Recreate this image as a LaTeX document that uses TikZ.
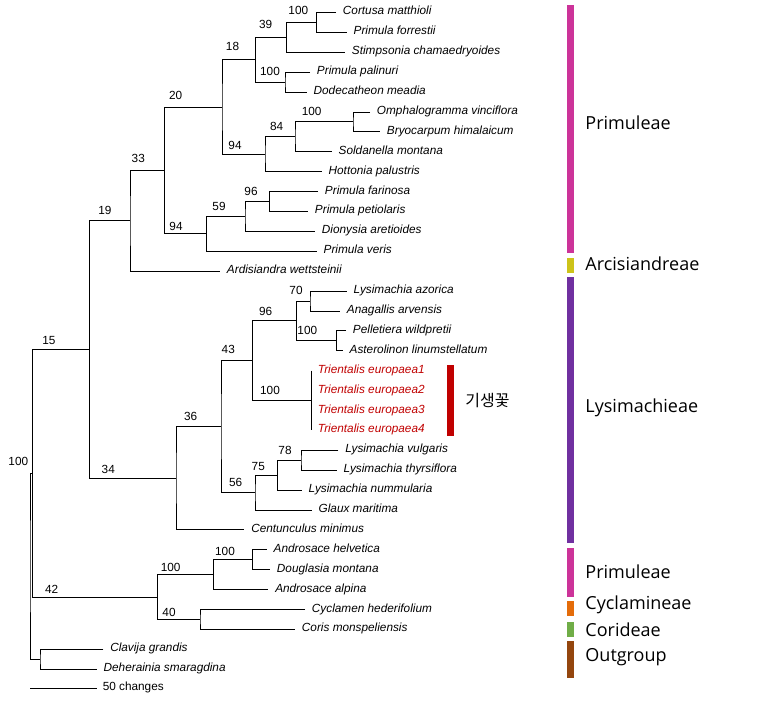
\documentclass[tikz,border=0pt]{standalone}
\usepackage{fontspec}
\setmainfont{Liberation Sans}
\newfontfamily\grpfont{Open Sans}
\newfontfamily\krfont{Noto Sans CJK KR}
\definecolor{barmag}{RGB}{204,51,153}
\definecolor{baryel}{RGB}{205,195,25}
\definecolor{barpur}{RGB}{112,48,160}
\definecolor{barora}{RGB}{228,108,10}
\definecolor{bargrn}{RGB}{112,173,71}
\definecolor{barbrn}{RGB}{148,70,14}
\definecolor{trired}{RGB}{192,0,0}
\begin{document}
\begin{tikzpicture}[x=1pt,y=-1pt,line width=0.9pt,
  leaf/.style={anchor=west,inner xsep=6.5pt,inner ysep=0pt,text height=8pt,text depth=3pt,font=\fontsize{11.8}{12}\selectfont\itshape},
  bs/.style={inner sep=0pt,font=\fontsize{11.8}{12}\selectfont},
  grp/.style={anchor=west,inner sep=0pt,font=\grpfont\fontsize{18}{20}\selectfont},
  tri/.style={leaf,text=trired}]
\useasboundingbox (0,0) rectangle (763,703);
% internal nodes
\coordinate (root) at (30,566.3);
\coordinate (nR) at (32.3,473.35);
\coordinate (nOut) at (40,659.25);
\coordinate (n15) at (89.3,349.6);
\coordinate (n42) at (157.3,597.1);
\coordinate (n19) at (130,220.85);
\coordinate (n34) at (176,478.3);
\coordinate (n33) at (164.3,170.5);
\coordinate (n20) at (222,107.05);
\coordinate (n94b) at (206.7,233.9);
\coordinate (n18) at (255.7,59.8);
\coordinate (n94a) at (265,154.3);
\coordinate (n39) at (286.7,37.4);
\coordinate (nPal) at (285,82.15);
\coordinate (nCor) at (316.7,22.45);
\coordinate (n84) at (295,136.9);
\coordinate (nOmp) at (353,121.95);
\coordinate (n59) at (245,216.5);
\coordinate (n96) at (269.3,201.55);
\coordinate (n36) at (221,426.7);
\coordinate (n43) at (252.3,360.75);
\coordinate (n56) at (255,492.6);
\coordinate (n96b) at (296.7,320.95);
\coordinate (n70) at (310,301.05);
\coordinate (nPel) at (336.7,340.85);
\coordinate (nTri) at (311,400.55);
\coordinate (n75) at (277.3,475.2);
\coordinate (n78) at (301,460.25);
\coordinate (n100d) at (213.3,574.7);
\coordinate (nHel) at (252.7,559.75);
\coordinate (n40) at (200,619.45);
% leaves
\node[leaf] (L1) at (336,12.5) {Cortusa matthioli};
\node[leaf] (L2) at (346.7,32.4) {Primula forrestii};
\node[leaf] (L3) at (345,52.3) {Stimpsonia chamaedryoides};
\node[leaf] (L4) at (310,72.2) {Primula palinuri};
\node[leaf] (L5) at (306.7,92.1) {Dodecatheon meadia};
\node[leaf] (L6) at (370,112.0) {Omphalogramma vinciflora};
\node[leaf] (L7) at (380,131.9) {Bryocarpum himalaicum};
\node[leaf] (L8) at (331.7,151.8) {Soldanella montana};
\node[leaf] (L9) at (321.7,171.7) {Hottonia palustris};
\node[leaf] (L10) at (318,191.6) {Primula farinosa};
\node[leaf] (L11) at (308,211.5) {Primula petiolaris};
\node[leaf] (L12) at (315,231.4) {Dionysia aretioides};
\node[leaf] (L13) at (316.7,251.3) {Primula veris};
\node[leaf] (L14) at (220,271.2) {Ardisiandra wettsteinii};
\node[leaf] (L15) at (346.7,291.1) {Lysimachia azorica};
\node[leaf] (L16) at (340,311.0) {Anagallis arvensis};
\node[leaf] (L17) at (346,330.9) {Pelletiera wildpretii};
\node[leaf] (L18) at (342.7,350.8) {Asterolinon linumstellatum};
\node[tri] (L19) at (311,370.7) {Trientalis europaea1};
\node[tri] (L20) at (311,390.6) {Trientalis europaea2};
\node[tri] (L21) at (311,410.5) {Trientalis europaea3};
\node[tri] (L22) at (311,430.4) {Trientalis europaea4};
\node[leaf] (L23) at (338.3,450.3) {Lysimachia vulgaris};
\node[leaf] (L24) at (336.7,470.2) {Lysimachia thyrsiflora};
\node[leaf] (L25) at (301.7,490.1) {Lysimachia nummularia};
\node[leaf] (L26) at (311.7,510.0) {Glaux maritima};
\node[leaf] (L27) at (244.3,529.9) {Centunculus minimus};
\node[leaf] (L28) at (266.7,549.8) {Androsace helvetica};
\node[leaf] (L29) at (270,569.7) {Douglasia montana};
\node[leaf] (L30) at (268.3,589.6) {Androsace alpina};
\node[leaf] (L31) at (305,609.5) {Cyclamen hederifolium};
\node[leaf] (L32) at (295,629.4) {Coris monspeliensis};
\node[leaf] (L33) at (103.3,649.3) {Clavija grandis};
\node[leaf] (L34) at (96.7,669.2) {Deherainia smaragdina};
% branches
\draw (L1.west) -| (nCor) |- (L2.west);
\draw (nCor) -| (n39) |- (L3.west);
\draw (L4.west) -| (nPal) |- (L5.west);
\draw (n39) -| (n18) |- (nPal);
\draw (L6.west) -| (nOmp) |- (L7.west);
\draw (nOmp) -| (n84) |- (L8.west);
\draw (n84) -| (n94a) |- (L9.west);
\draw (n18) -| (n20) |- (n94a);
\draw (L10.west) -| (n96) |- (L11.west);
\draw (n96) -| (n59) |- (L12.west);
\draw (n59) -| (n94b) |- (L13.west);
\draw (n20) -| (n33) |- (n94b);
\draw (n33) -| (n19) |- (L14.west);
\draw (L15.west) -| (n70) |- (L16.west);
\draw (L17.west) -| (nPel) |- (L18.west);
\draw (n70) -| (n96b) |- (nPel);
\draw (L19.west) -- (L22.west);
\draw (n96b) -| (n43) |- (nTri);
\draw (L23.west) -| (n78) |- (L24.west);
\draw (n78) -| (n75) |- (L25.west);
\draw (n75) -| (n56) |- (L26.west);
\draw (n43) -| (n36) |- (n56);
\draw (n36) -| (n34) |- (L27.west);
\draw (n19) -| (n15) |- (n34);
\draw (L28.west) -| (nHel) |- (L29.west);
\draw (nHel) -| (n100d) |- (L30.west);
\draw (L31.west) -| (n40) |- (L32.west);
\draw (n100d) -| (n42) |- (n40);
\draw (n15) -| (nR) |- (n42);
\draw (L33.west) -| (nOut) |- (L34.west);
\draw (nR) -| (root) |- (nOut);
% bootstrap values
\node[bs] (b1) at (298.3,10.7) {100};
\node[bs] (b2) at (265.7,24.3) {39};
\node[bs] (b3) at (232.5,46.7) {18};
\node[bs] (b4) at (270,71) {100};
\node[bs] (b5) at (175.7,95.7) {20};
\node[bs] (b6) at (311.7,111.7) {100};
\node[bs] (b7) at (276.7,126.7) {84};
\node[bs] (b8) at (235,145) {94};
\node[bs] (b9) at (138.3,158.3) {33};
\node[bs] (b10) at (251,191.7) {96};
\node[bs] (b11) at (219,206.7) {59};
\node[bs] (b12) at (176,226) {94};
\node[bs] (b13) at (105,210.7) {19};
\node[bs] (b14) at (49,340) {15};
\node[bs] (b15) at (296,290) {70};
\node[bs] (b16) at (265.7,311.7) {96};
\node[bs] (b17) at (307.3,330) {100};
\node[bs] (b18) at (228.3,349) {43};
\node[bs] (b19) at (270,390.7) {100};
\node[bs] (b20) at (190.7,416) {36};
\node[bs] (b21) at (285,450.7) {78};
\node[bs] (b22) at (258.3,466) {75};
\node[bs] (b23) at (235.7,482.3) {56};
\node[bs] (b24) at (108.3,469) {34};
\node[bs] (b25) at (18.3,461.7) {100};
\node[bs] (b26) at (170.7,567.7) {100};
\node[bs] (b27) at (225,551.7) {100};
\node[bs] (b28) at (51.7,589) {42};
\node[bs] (b29) at (169,612.3) {40};
% scale bar
\coordinate (s1) at (30,688.3);
\coordinate (s2) at (96.7,688.3);
\draw (s1) -- (s2);
\node[bs,anchor=west] (sc) at (102.3,687.3) {50 changes};
% Trientalis marker
\fill[trired] (447.3,365) rectangle (454,436);
\node[anchor=west,inner sep=0pt,font=\krfont\fontsize{16}{18}\selectfont] (kr) at (465,401) {기생꽃};
% group bars
\fill[barmag] (566.7,5) rectangle (574,253.3);
\fill[baryel] (566.7,257.7) rectangle (574,272.7);
\fill[barpur] (566.7,277.3) rectangle (574,542.7);
\fill[barmag] (566.7,547.7) rectangle (574,596.7);
\fill[barora] (566.7,600.7) rectangle (574,615.7);
\fill[bargrn] (566.7,621.7) rectangle (574,636.7);
\fill[barbrn] (566.7,640.7) rectangle (574,678.3);
\node[grp] (g1) at (585,122.7) {Primuleae};
\node[grp] (g2) at (585,263.3) {Arcisiandreae};
\node[grp] (g3) at (585,408.3) {Lysimachieae};
\node[grp] (g4) at (585,571.7) {Primuleae};
\node[grp] (g5) at (585,605) {Cyclamineae};
\node[grp] (g6) at (585,630) {Corideae};
\node[grp] (g7) at (585,656.7) {Outgroup};
\end{tikzpicture}
\end{document}
